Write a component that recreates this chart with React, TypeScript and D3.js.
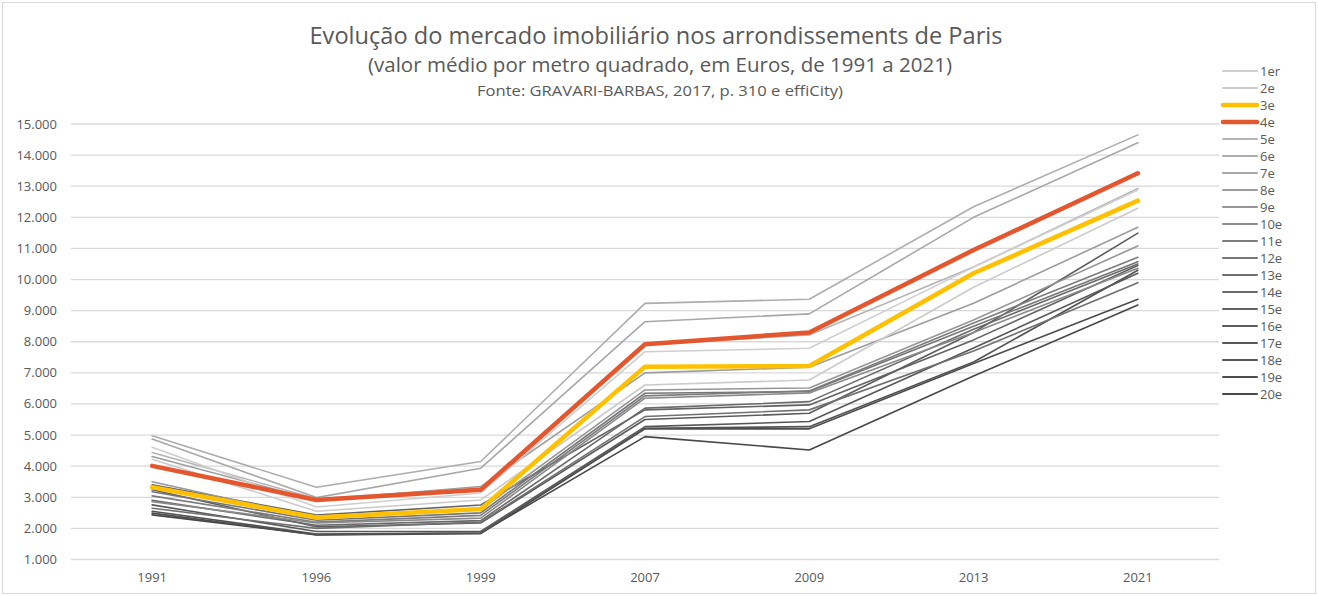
import React from "react";
import * as d3 from "d3";

const years = ["1991", "1996", "1999", "2007", "2009", "2013", "2021"];
const yTicks = [1000, 2000, 3000, 4000, 5000, 6000, 7000, 8000, 9000, 10000, 11000, 12000, 13000, 14000, 15000];

const names = ["1er", "2e", "3e", "4e", "5e", "6e", "7e", "8e", "9e", "10e", "11e", "12e", "13e", "14e", "15e", "16e", "17e", "18e", "19e", "20e"];

const v1er = [4610, 2690, 3140, 7680, 7790, 10400, 12880];
const v2e = [4225, 2550, 2915, 6610, 6770, 9750, 12290];
const v3e = [3320, 2350, 2620, 7200, 7220, 10200, 12535];
const v4e = [4010, 2915, 3240, 7920, 8300, 10950, 13415];
const v5e = [4440, 2950, 3300, 7895, 8220, 10400, 12930];
const v6e = [4975, 3320, 4150, 9235, 9365, 12340, 14650];
const v7e = [4870, 2990, 3935, 8645, 8895, 12000, 14400];
const v8e = [4310, 2900, 3345, 7000, 7180, 9235, 11680];
const v9e = [3500, 2330, 2600, 6450, 6515, 8700, 11080];
const v10e = [2860, 2175, 2330, 6185, 6355, 8300, 10360];
const v11e = [3045, 2200, 2420, 6260, 6420, 8600, 10715];
const v12e = [3180, 2260, 2500, 6345, 6400, 8500, 10575];
const v13e = [2650, 2000, 2200, 5595, 5810, 7700, 9900];
const v14e = [2900, 2100, 2250, 5865, 6075, 8400, 10500];
const v15e = [3400, 2430, 2750, 5810, 5970, 8060, 10450];
const v16e = [3240, 2050, 2175, 5500, 5700, 8300, 11490];
const v17e = [2755, 1900, 1900, 5270, 5435, 7800, 10200];
const v18e = [2550, 1820, 1850, 5220, 5270, 7350, 10300];
const v19e = [2490, 1790, 1830, 5200, 5200, 7300, 9365];
const v20e = [2435, 1800, 1850, 4950, 4520, 6900, 9180];

const seriesValues = [v1er, v2e, v3e, v4e, v5e, v6e, v7e, v8e, v9e, v10e, v11e, v12e, v13e, v14e, v15e, v16e, v17e, v18e, v19e, v20e];

const colors = [
  "#cfcfcf", "#cbcbcb", "#FFC000", "#E4572E", "#b4b4b4", "#adadad", "#a8a8a8",
  "#9c9c9c", "#969696", "#8a8a8a", "#7c7c7c", "#767676", "#707070", "#6a6a6a",
  "#626262", "#5c5c5c", "#575757", "#525252", "#4d4d4d", "#484848",
];
const widths = names.map((n) => (n === "3e" || n === "4e" ? 4.5 : 1.6));

const W = 1318;
const H = 596;

export default function App() {
  const x = d3.scaleBand<string>().domain(years).range([70, 1220]).paddingInner(0).paddingOuter(0);
  const y = d3.scaleLinear().domain([1000, 15000]).range([559.5, 124]);
  const line = d3
    .line<number>()
    .x((_, i) => (x(years[i]) as number) + x.bandwidth() / 2)
    .y((d) => y(d));
  const fmt = (v: number) => d3.format(",")(v).replace(/,/g, ".");
  const order = names.map((_, i) => i).filter((i) => i !== 2 && i !== 3).reverse().concat([2, 3]);
  const font = "'Open Sans', 'Noto Sans', sans-serif";

  return (
    <svg width={W} height={H} style={{ position: "absolute", left: 0, top: 0, background: "#fff" }} fontFamily={font}>
      <rect x={2.5} y={2.5} width={W - 5} height={H - 5} fill="#fff" stroke="#d9d9d9" strokeWidth={1} />
      <text x={656} y={44} textAnchor="middle" fontSize={23} fill="#595959" textLength={693} lengthAdjust="spacingAndGlyphs">
        Evolução do mercado imobiliário nos arrondissements de Paris
      </text>
      <text x={660} y={72} textAnchor="middle" fontSize={20} fill="#595959" textLength={584} lengthAdjust="spacingAndGlyphs">
        (valor médio por metro quadrado, em Euros, de 1991 a 2021)
      </text>
      <text x={660} y={96} textAnchor="middle" fontSize={15} fill="#595959" textLength={366} lengthAdjust="spacingAndGlyphs">
        Fonte: GRAVARI-BARBAS, 2017, p. 310 e effiCity)
      </text>
      {yTicks.map((t) => (
        <g key={t}>
          <line x1={71} x2={1219} y1={y(t)} y2={y(t)} stroke="#d9d9d9" strokeWidth={1.3} />
          <text x={57} y={y(t) + 4.5} textAnchor="end" fontSize={13} fill="#595959">
            {fmt(t)}
          </text>
        </g>
      ))}
      {years.map((yr) => (
        <text key={yr} x={(x(yr) as number) + x.bandwidth() / 2} y={582} textAnchor="middle" fontSize={13} fill="#595959">
          {yr}
        </text>
      ))}
      {order.map((i) => (
        <path
          key={names[i]}
          d={line(seriesValues[i]) || ""}
          fill="none"
          stroke={colors[i]}
          strokeWidth={widths[i]}
          strokeLinejoin="round"
          strokeLinecap="round"
        />
      ))}
      {names.map((n, i) => {
        const ly = 71 + i * 17;
        return (
          <g key={n}>
            <line x1={1223} x2={1257} y1={ly} y2={ly} stroke={colors[i]} strokeWidth={widths[i] === 1.6 ? 2 : 4.5} strokeLinecap="round" />
            <text x={1260} y={ly + 4.5} fontSize={13} fill="#595959">
              {n}
            </text>
          </g>
        );
      })}
    </svg>
  );
}
